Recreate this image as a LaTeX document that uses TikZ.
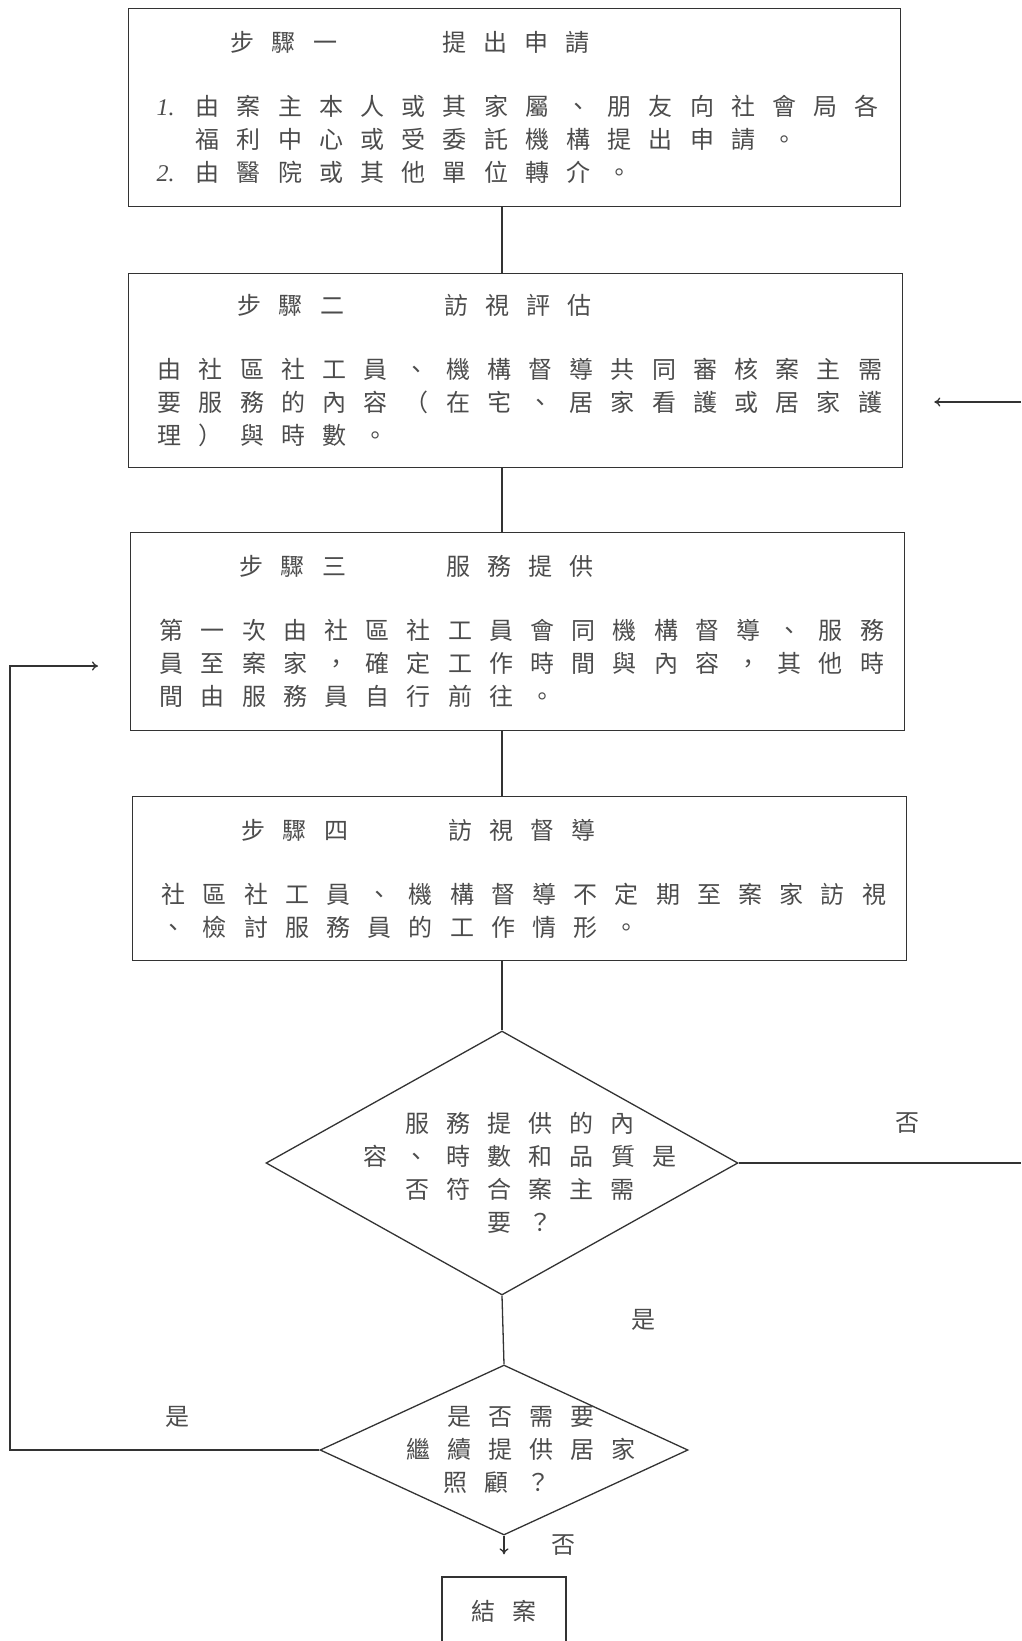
\documentclass[tikz,border=0pt]{standalone}
\usepackage{fontspec}
\setmainfont{Noto Sans CJK TC}
\newfontfamily\numfont{Liberation Serif}
\usepackage{tikz}
\usetikzlibrary{arrows.meta,positioning,shapes.geometric}

\newcommand\bodyfont{\fontsize{24}{33}\selectfont}
\newlength\cgap
\setlength\cgap{17.2pt}
% spread the characters of one line
\def\spaced#1{\spacedfirst#1\relax}
\def\spacedfirst#1{#1\spacedrest}
\def\spacedrest#1{\ifx#1\relax\else\kern\cgap#1\expandafter\spacedrest\fi}

\begin{document}
\begin{tikzpicture}[
    x=1pt, y=-1pt,
    line width=1.3pt, color=black!80,
    stepbox/.style={rectangle, draw, anchor=north west, inner sep=0pt, align=left, text width=716pt, minimum width=774pt, font=\bodyfont, text=black!70},
    ask/.style={diamond, draw, inner sep=0pt},
    asktext/.style={align=center, font=\bodyfont, text=black!70, inner sep=0pt},
    answer/.style={font=\bodyfont, text=black!70, inner sep=0pt},
    arrow/.style={-{To[length=6pt,width=9pt]}}
]
\useasboundingbox (0,0) rectangle (1021,1641);

% Steps
\node[stepbox, minimum width=772pt, minimum height=198pt] (s1) at (128,8) {\hspace*{74pt}\spaced{步驟一}\kern105pt\spaced{提出申請}\\[31pt]
  \makebox[39pt][l]{\numfont\itshape 1.}\spaced{由案主本人或其家屬、朋友向社會局各}\\
  \hspace*{39pt}\spaced{福利中心或受委託機構提出申請。}\\
  \makebox[39pt][l]{\numfont\itshape 2.}\spaced{由醫院或其他單位轉介。}};

\node[stepbox, minimum height=194pt] (s2) at (128,273) {\hspace*{80pt}\spaced{步驟二}\kern100pt\spaced{訪視評估}\\[31pt]
  \spaced{由社區社工員、機構督導共同審核案主需}\\
  \spaced{要服務的內容（在宅、居家看護或居家護}\\
  \spaced{理）與時數。}};

\node[stepbox, minimum height=198pt] (s3) at (130,532) {\hspace*{80pt}\spaced{步驟三}\kern100pt\spaced{服務提供}\\[31pt]
  \spaced{第一次由社區社工員會同機構督導、服務}\\
  \spaced{員至案家，確定工作時間與內容，其他時}\\
  \spaced{間由服務員自行前往。}};

\node[stepbox, minimum height=164pt] (s4) at (132,796) {\hspace*{80pt}\spaced{步驟四}\kern100pt\spaced{訪視督導}\\[31pt]
  \spaced{社區社工員、機構督導不定期至案家訪視}\\
  \spaced{、檢討服務員的工作情形。}};

% Decisions
\node[ask, minimum width=472pt, minimum height=264pt] (q1) at (502,1163) {};
\node[asktext] (q1t) at ([shift={(18,10)}]q1.center) {\spaced{服務提供的內}\\ \spaced{容、時數和品質是}\\ \spaced{否符合案主需}\\ \spaced{要？}};

\node[ask, minimum width=368pt, minimum height=170pt] (q2) at (504,1450) {};
\node[asktext] (q2t) at ([xshift=17]q2.center) {\spaced{是否需要}\\ \spaced{繼續提供居家}\\ \spaced{照顧？}\kern48pt};

\node[draw, minimum width=124pt, minimum height=68pt, font=\bodyfont, text=black!70, inner sep=0pt] (done) at (504,1611) {\spaced{結案}};

% Answers
\node[answer] (no1) at (907,1123) {否};
\node[answer] (yes1) at (643,1320) {是};
\node[answer] (yes2) at (177,1417) {是};
\node[answer] (no2) at (563,1545) {否};

% Connectors
\draw (s1.south -| q1.north) -- (s2.north -| q1.north);
\draw (s2.south -| q1.north) -- (s3.north -| q1.north);
\draw (s3.south -| q1.north) -- (s4.north -| q1.north);
\draw (s4.south -| q1.north) -- (q1.north);
\draw (q1.south) -- (q2.north);
\draw[arrow, shorten >=22pt] (q2.south) -- (done.north);

\coordinate (loop) at (10,666);
\draw[arrow, shorten >=32pt] (q2.west) -| (loop) -- (s3.west |- loop);

\coordinate (edge1) at (1021,1163);
\draw (q1.east) -- (edge1);
\coordinate (edge2) at (1021,402);
\draw[arrow, shorten >=31pt] (edge2) -- (s2.east |- edge2);
\end{tikzpicture}
\end{document}
